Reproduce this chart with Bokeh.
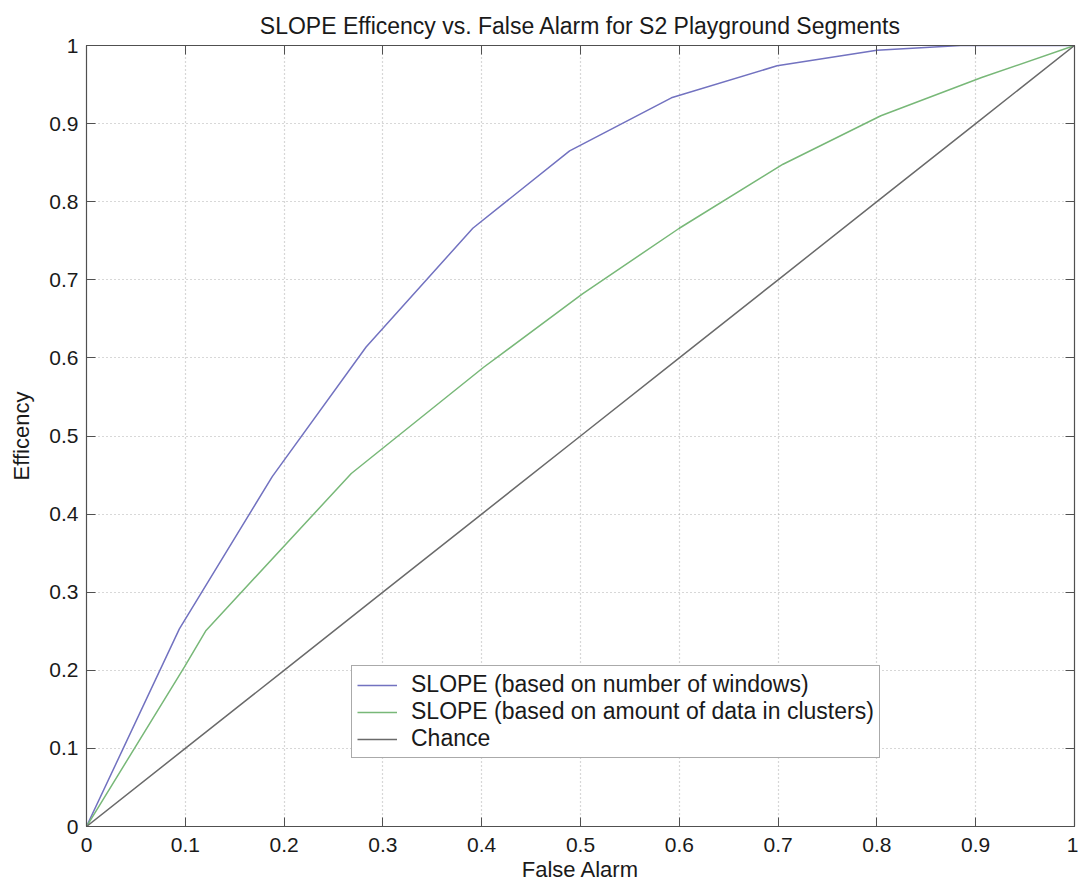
from bokeh.plotting import figure
from bokeh.models import LinearAxis, FixedTicker, Range1d, CustomLabelingPolicy
from bokeh.embed import file_html
from bokeh.resources import INLINE

# ---- data ----
blue_x = [0, 0.094, 0.188, 0.283, 0.391, 0.489, 0.592, 0.699, 0.800, 0.885, 1.0]
blue_y = [0, 0.253, 0.448, 0.614, 0.766, 0.865, 0.933, 0.974, 0.994, 1.0, 1.0]
green_x = [0, 0.099, 0.121, 0.268, 0.402, 0.502, 0.600, 0.705, 0.804, 0.906, 1.0]
green_y = [0, 0.204, 0.251, 0.452, 0.588, 0.682, 0.766, 0.848, 0.910, 0.959, 1.0]
chance_x = [0, 0.1, 0.2, 0.3, 0.4, 0.5, 0.6, 0.7, 0.8, 0.9, 1.0]
chance_y = [0, 0.1, 0.2, 0.3, 0.4, 0.5, 0.6, 0.7, 0.8, 0.9, 1.0]
tick_values = [0, 0.1, 0.2, 0.3, 0.4, 0.5, 0.6, 0.7, 0.8, 0.9, 1]
tick_labels = ["0", "0.1", "0.2", "0.3", "0.4", "0.5", "0.6", "0.7", "0.8", "0.9", "1"]
series_names = ["SLOPE (based on number of windows)",
                "SLOPE (based on amount of data in clusters)",
                "Chance"]

FONT = "Liberation Sans"
TXT = "#1a1a1a"
AX = "#505050"

p = figure(width=1078, height=887, output_backend="svg", toolbar_location=None,
           x_range=Range1d(0, 1), y_range=Range1d(0, 1),
           min_border_left=86, min_border_right=0, min_border_top=45,
           min_border_bottom=61,
           title="SLOPE Efficency vs. False Alarm for S2 Playground Segments")
p.title.text_font = FONT
p.title.text_font_size = "23px"
p.title.text_font_style = "normal"
p.title.text_color = TXT
p.title.align = "center"
p.title.standoff = 6

p.outline_line_color = AX
p.outline_line_width = 1.2

overrides = {v: l for v, l in zip(tick_values, tick_labels)}

for ax in [p.xaxis[0], p.yaxis[0]]:
    ax.ticker = FixedTicker(ticks=tick_values)
    ax.major_label_overrides = overrides
    ax.major_tick_in = 9
    ax.major_tick_out = 0
    ax.minor_tick_line_color = None
    ax.axis_line_color = AX
    ax.major_tick_line_color = AX
    ax.major_label_text_font = FONT
    ax.major_label_text_font_size = "21px"
    ax.major_label_text_color = TXT
    ax.axis_label_text_font = FONT
    ax.axis_label_text_font_size = "22px"
    ax.axis_label_text_font_style = "normal"
    ax.axis_label_text_color = TXT

p.xaxis[0].axis_label = "False Alarm"
p.xaxis[0].major_label_standoff = 11
p.xaxis[0].axis_label_standoff = 2
p.yaxis[0].axis_label = "Efficency"
p.yaxis[0].major_label_standoff = 8
p.yaxis[0].axis_label_standoff = 12

hide_all = CustomLabelingPolicy(code="""
for (const i of indices)
    indices.unset(i)
""")

for loc in ["above", "right"]:
    ax = LinearAxis(ticker=FixedTicker(ticks=tick_values))
    ax.major_tick_in = 9
    ax.major_tick_out = 0
    ax.minor_tick_line_color = None
    ax.axis_line_color = AX
    ax.major_tick_line_color = AX
    ax.major_label_text_font_size = "1px"
    ax.major_label_standoff = 0
    ax.major_label_policy = hide_all
    p.add_layout(ax, loc)

for g in [p.xgrid[0], p.ygrid[0]]:
    g.ticker = FixedTicker(ticks=tick_values)
    g.grid_line_color = "#b0b0b0"
    g.grid_line_dash = "1 3"
    g.grid_line_width = 1.2

p.line(blue_x, blue_y, line_color="#7272c0", line_width=1.5, legend_label=series_names[0])
p.line(green_x, green_y, line_color="#78b878", line_width=1.5, legend_label=series_names[1])
p.line(chance_x, chance_y, line_color="#6a6a6a", line_width=1.5, legend_label=series_names[2])

lg = p.legend[0]
lg.location = (265, 68)
lg.margin = 0
lg.padding = 5
lg.spacing = 0
lg.glyph_width = 40
lg.glyph_height = 22
lg.label_height = 22
lg.label_standoff = 14
lg.label_text_font = FONT
lg.label_text_font_size = "23px"
lg.label_text_color = TXT
lg.border_line_color = "#555555"
lg.border_line_width = 1.2
lg.background_fill_color = "white"
lg.background_fill_alpha = 1.0

open("out.html", "w").write(file_html(p, INLINE))
